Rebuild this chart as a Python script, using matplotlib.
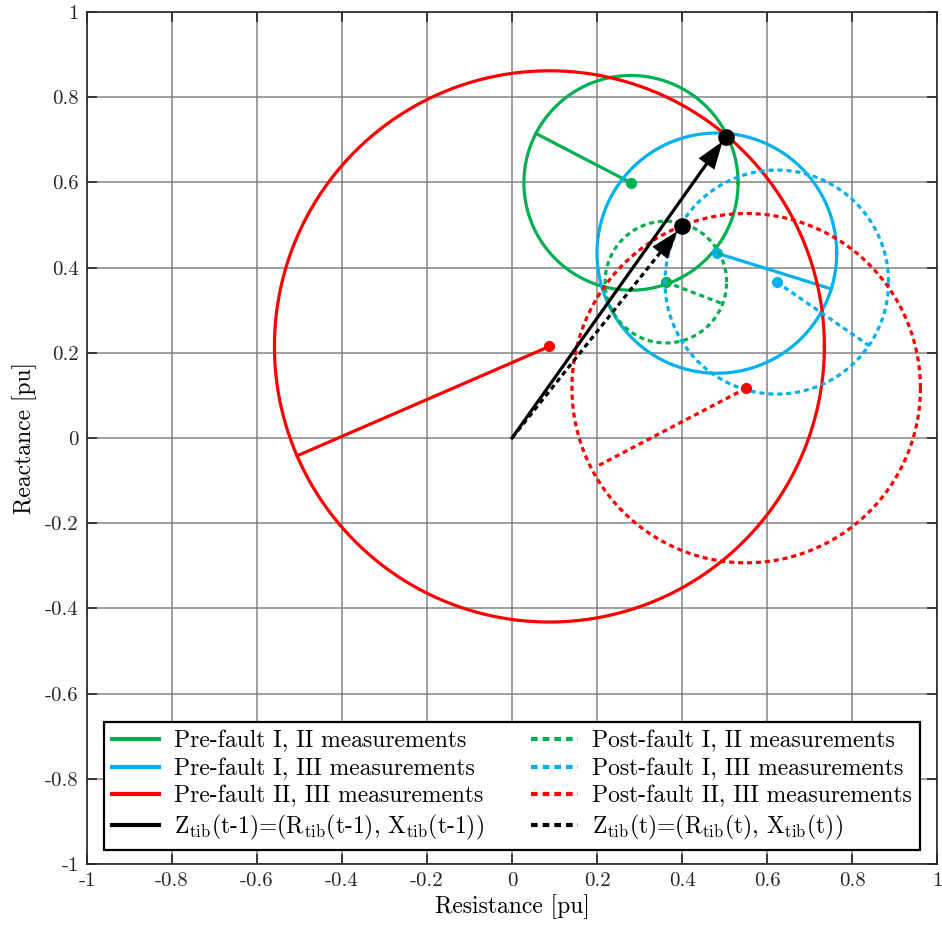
import numpy as np
import matplotlib
matplotlib.use("Agg")
import matplotlib.pyplot as plt

plt.rcParams['font.family'] = 'serif'
plt.rcParams['font.serif'] = ['cmr10']
plt.rcParams['mathtext.fontset'] = 'cm'
plt.rcParams['axes.unicode_minus'] = False
plt.rcParams['axes.formatter.use_mathtext'] = False

GREEN = '#00b050'
BLUE = '#00b0f0'
RED = '#ff0000'

# Circle centres (R, X), radii and the radius-marker end points
pre_centers = [(0.280, 0.599), (0.482, 0.434), (0.088, 0.215)]
pre_radii = [0.252, 0.282, 0.647]
pre_ends = [(0.056, 0.715), (0.751, 0.350), (-0.506, -0.042)]

post_centers = [(0.362, 0.366), (0.623, 0.366), (0.551, 0.117)]
post_radii = [0.143, 0.263, 0.410]
post_ends = [(0.496, 0.315), (0.840, 0.217), (0.199, -0.067)]

colors = [GREEN, BLUE, RED]
pre_labels = ['Pre-fault I, II measurements',
              'Pre-fault I, III measurements',
              'Pre-fault II, III measurements']
post_labels = ['Post-fault I, II measurements',
               'Post-fault I, III measurements',
               'Post-fault II, III measurements']

# Thevenin impedance estimates
z_prev = (0.503, 0.707)
z_now = (0.399, 0.498)
z_prev_label = r'Z$_{\rm tib}$(t-1)=(R$_{\rm tib}$(t-1), X$_{\rm tib}$(t-1))'
z_now_label = r'Z$_{\rm tib}$(t)=(R$_{\rm tib}$(t), X$_{\rm tib}$(t))'

ticks = np.round(np.arange(-1, 1.01, 0.2), 1)
tick_labels = ['-1', '-0.8', '-0.6', '-0.4', '-0.2', '0', '0.2', '0.4', '0.6', '0.8', '1']

fig = plt.figure(figsize=(9.42, 9.34), dpi=100)
ax = fig.add_axes([87 / 942, 1 - 864 / 934, 850 / 942, 852 / 934])

theta = np.linspace(0, 2 * np.pi, 400)
LW = 2.3
DASH = (0, (1.6, 1.2))

handles = {}
for (cx, cy), r, (ex, ey), c, lab in zip(pre_centers, pre_radii, pre_ends, colors, pre_labels):
    h, = ax.plot(cx + r * np.cos(theta), cy + r * np.sin(theta), color=c, lw=LW, label=lab)
    ax.plot([cx, ex], [cy, ey], color=c, lw=LW)
    ax.plot(cx, cy, 'o', color=c, ms=7)
    handles[lab] = h

for (cx, cy), r, (ex, ey), c, lab in zip(post_centers, post_radii, post_ends, colors, post_labels):
    h, = ax.plot(cx + r * np.cos(theta), cy + r * np.sin(theta), color=c, lw=LW,
                 linestyle=DASH, label=lab)
    ax.plot([cx, ex], [cy, ey], color=c, lw=LW, linestyle=DASH)
    ax.plot(cx, cy, 'o', color=c, ms=7)
    handles[lab] = h

HEAD = '-|>,head_length=2.0,head_width=0.7'

# Impedance vectors from the origin
h1, = ax.plot([0, z_prev[0] * 0.95], [0, z_prev[1] * 0.95], color='black', lw=LW,
              label=z_prev_label)
ax.annotate('', xy=(z_prev[0] * 0.985, z_prev[1] * 0.985), xytext=(0, 0),
            arrowprops=dict(arrowstyle=HEAD, color='black', lw=0, shrinkA=0, shrinkB=0))
ax.plot(*z_prev, 'o', color='black', ms=11)

h2, = ax.plot([0, z_now[0] * 0.93], [0, z_now[1] * 0.93], color='black', lw=LW,
              linestyle=DASH, label=z_now_label)
ax.annotate('', xy=(z_now[0] * 0.975, z_now[1] * 0.975), xytext=(0, 0),
            arrowprops=dict(arrowstyle=HEAD, color='black', lw=0, shrinkA=0, shrinkB=0))
ax.plot(*z_now, 'o', color='black', ms=11)

ax.set_xlim(-1, 1)
ax.set_ylim(-1, 1)
ax.set_xticks(ticks)
ax.set_yticks(ticks)
ax.set_xticklabels(tick_labels)
ax.set_yticklabels(tick_labels)
ax.tick_params(direction='in', top=True, right=True, length=7, width=1.2,
               labelsize=15, colors='#262626', pad=6)
ax.grid(True, color='#7a7a7a', lw=1.2, alpha=0.85)
ax.set_axisbelow(True)
for s in ax.spines.values():
    s.set_color('#262626')
    s.set_linewidth(1.2)

ax.set_xlabel('Resistance [pu]', fontsize=17, labelpad=3)
ax.set_ylabel('Reactance [pu]', fontsize=17, labelpad=6)

hl = [handles[pre_labels[0]], handles[pre_labels[1]], handles[pre_labels[2]], h1,
      handles[post_labels[0]], handles[post_labels[1]], handles[post_labels[2]], h2]
labs = [h.get_label() for h in hl]
leg = ax.legend(hl, labs, ncol=2, loc='lower center', bbox_to_anchor=(0.5, 0.0165),
                borderaxespad=0, fontsize=17, frameon=True, fancybox=False, framealpha=1,
                edgecolor='black', handlelength=2.0, handletextpad=0.6,
                columnspacing=2.0, labelspacing=0.22, borderpad=0.35)
leg.get_frame().set_linewidth(1.6)
for lh in leg.get_lines():
    lh.set_linewidth(3)

fig.savefig('out.png', dpi=100)
